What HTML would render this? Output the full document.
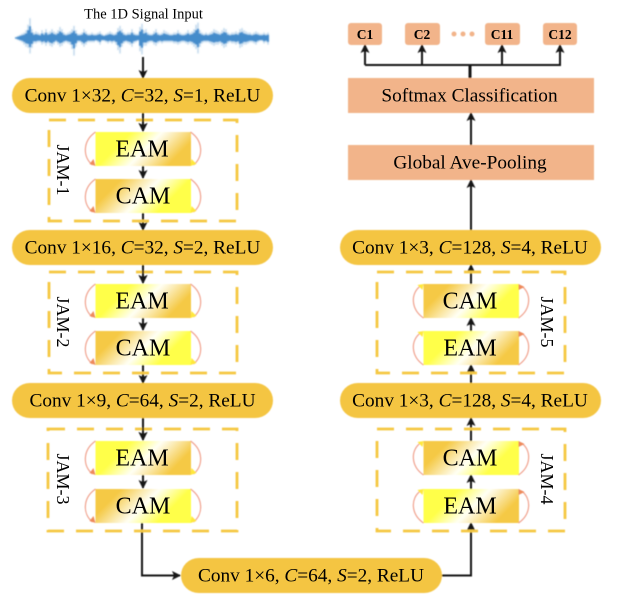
<!DOCTYPE html>
<html><head><meta charset="utf-8"><style>
html,body{margin:0;padding:0;background:#fff}
svg{display:block}
text{font-family:"Liberation Serif",serif;fill:#000}
.p{font-size:19.3px;text-anchor:middle}
.m{font-size:24px;text-anchor:middle}
.j{font-size:18px;text-anchor:middle}
.c{font-size:13.5px;font-weight:bold;text-anchor:middle}
.l{stroke:#141414;stroke-width:2;fill:none}
.d{fill:none;stroke:#f5c842;stroke-width:2.8;stroke-dasharray:17 12}
</style></head><body>
<svg width="618" height="604" viewBox="0 0 618 604" xmlns="http://www.w3.org/2000/svg">
<defs>
<linearGradient id="e" gradientUnits="userSpaceOnUse" x1="15" y1="-15" x2="80" y2="49"><stop offset=".28" stop-color="#ffff4a"/><stop offset=".52" stop-color="#fffff4"/><stop offset=".82" stop-color="#f5c945"/></linearGradient>
<linearGradient id="k" gradientUnits="userSpaceOnUse" x1="15" y1="-15" x2="80" y2="49"><stop offset=".2" stop-color="#f5c945"/><stop offset=".5" stop-color="#fffff4"/><stop offset=".74" stop-color="#ffff4a"/></linearGradient>
<marker id="a" markerWidth="10" markerHeight="10" refX="8" refY="5" orient="auto" markerUnits="userSpaceOnUse"><path d="M0 0.5L9 5L0 9.5L2 5Z" fill="#141414"/></marker>
<g id="arcsD"><path d="M0 0C-13 9-13 25-3 33" fill="none" stroke="#f0a08c" stroke-width="1.2"/><path d="M0 34L-6 32L-2 27Z" fill="#ee8a5c"/><path d="M95 0C108 9 108 25 98 33" fill="none" stroke="#f0a08c" stroke-width="1.2"/><path d="M95 34L101 32L96 27Z" fill="#ffe83e"/></g>
<g id="arcsU"><path d="M0 34C-13 25-13 9-3 2" fill="none" stroke="#f0a08c" stroke-width="1.2"/><path d="M0 0L-6 1L-1 6Z" fill="#ffe83e"/><path d="M95 34C108 25 108 9 98 2" fill="none" stroke="#f0a08c" stroke-width="1.2"/><path d="M95 0L101 3L95 6Z" fill="#ee8a5c"/></g>
<g id="E"><rect width="95.500" height="34" fill="url(#e)"/></g>
<g id="K"><rect width="95.500" height="34" fill="url(#k)"/></g>
<path id="wv" d="M16 37V39M18 36V40M20 35V41M22 34V42M24 33V44M26 31V46M28 26V47M30 20V52M32 30V47M34 33V43M36 32V43M38 33V42M40 34V42M42 31V44M44 33V43M46 30V45M48 33V43M50 32V45M52 30V46M54 32V44M56 33V42M58 31V44M60 28V46M62 30V45M64 33V43M66 34V42M68 33V43M70 32V44M72 30V48M74 27V54M76 31V46M78 34V42M80 34V42M82 33V44M84 30V46M86 32V44M88 34V42M90 34V42M92 33V42M94 34V42M96 34V41M98 33V42M100 32V44M102 34V41M104 35V41M106 34V42M108 33V43M110 32V42M112 33V43M114 34V42M116 33V44M118 29V49M120 27V52M122 30V46M124 33V43M126 34V42M128 33V43M130 33V44M132 30V46M134 33V43M136 34V42M138 34V41M140 28V50M142 25V53M144 31V45M146 30V45M148 33V43M150 34V42M152 34V42M154 32V44M156 30V45M158 33V43M160 34V42M162 33V43M164 31V42M166 32V42M168 33V42M170 34V42M172 34V42M174 33V43M176 33V43M178 31V44M180 33V43M182 34V42M184 34V42M186 33V43M188 31V44M190 33V43M192 32V44M194 30V46M196 26V48M198 24V52M200 31V46M202 33V43M204 34V42M206 33V42M208 34V42M210 33V43M212 32V44M214 30V45M216 31V44M218 32V44M220 33V43M222 31V45M224 29V47M226 30V46M228 33V43M230 34V42M232 33V43M234 33V43M236 32V44M238 33V43M240 30V47M242 29V46M244 31V44M246 32V44M248 33V43M250 33V42M252 34V42M254 33V43M256 32V44M258 33V42M260 34V41M262 34V41M264 33V43M266 34V42M268 33V44"/>
<filter id="b" x="-5%" y="-5%" width="110%" height="110%"><feGaussianBlur stdDeviation="0.4"/></filter>
<filter id="t" x="-5%" y="-5%" width="110%" height="110%"><feGaussianBlur stdDeviation="0.22"/></filter>
<filter id="w" x="-5%" y="-30%" width="110%" height="160%"><feGaussianBlur stdDeviation="0.7"/></filter>
</defs>

<g filter="url(#w)" stroke="#3d86c9" fill="none">
<use href="#wv" stroke-width="1.2" opacity=".4" transform="translate(0,-3.800) scale(1,1.1)"/>
<use href="#wv" stroke-width="1.9" transform="translate(0,13.300) scale(1,.65)"/>
</g>

<g filter="url(#b)">
<path class="l" d="M143 57V78" marker-end="url(#a)"/>
<path class="l" d="M143 113V131" marker-end="url(#a)"/>
<path class="l" d="M143 166V178" marker-end="url(#a)"/>
<path class="l" d="M143 213V230" marker-end="url(#a)"/>
<path class="l" d="M143 265V283" marker-end="url(#a)"/>
<path class="l" d="M143 318V330" marker-end="url(#a)"/>
<path class="l" d="M143 365V383" marker-end="url(#a)"/>
<path class="l" d="M143 418V440" marker-end="url(#a)"/>
<path class="l" d="M143 475V488" marker-end="url(#a)"/>
<path class="l" d="M142 522V575.5H180" marker-end="url(#a)"/>
<path class="l" d="M442 575.5H471V523" marker-end="url(#a)"/>
<path class="l" d="M471 489V475" marker-end="url(#a)"/>
<path class="l" d="M471 441V418" marker-end="url(#a)"/>
<path class="l" d="M471 383V365" marker-end="url(#a)"/>
<path class="l" d="M471 331V318" marker-end="url(#a)"/>
<path class="l" d="M471 284V265" marker-end="url(#a)"/>
<path class="l" d="M471 230V180" marker-end="url(#a)"/>
<path class="l" d="M471 145V113" marker-end="url(#a)"/>
<path class="l" d="M470 78V65" style="stroke-width:3"/>
<path class="l" d="M365 65H561"/>
<path class="l" d="M365 65V45" marker-end="url(#a)"/>
<path class="l" d="M422 65V45" marker-end="url(#a)"/>
<path class="l" d="M502 65V45" marker-end="url(#a)"/>
<path class="l" d="M560 65V45" marker-end="url(#a)"/>

<rect class="d" x="49" y="120" width="188" height="101"/>
<rect class="d" x="49" y="272" width="188" height="101"/>
<rect class="d" x="48" y="429" width="189" height="102"/>
<rect class="d" x="377" y="272" width="188" height="101"/>
<rect class="d" x="377" y="429" width="188" height="102"/>

<g fill="#f4c542">
<rect x="12" y="78" width="261" height="35" rx="17.5"/>
<rect x="12" y="230" width="261" height="35" rx="17.5"/>
<rect x="12" y="383" width="261" height="35" rx="17.5"/>
<rect x="181" y="558" width="261" height="35" rx="17.5"/>
<rect x="340" y="230" width="261" height="35" rx="17.5"/>
<rect x="340" y="383" width="261" height="35" rx="17.5"/>
</g>

<g transform="translate(95.500,132)"><use href="#E"/><use href="#arcsD"/></g>
<g transform="translate(95.500,179)"><use href="#K"/><use href="#arcsD"/></g>
<g transform="translate(95.500,284)"><use href="#E"/><use href="#arcsD"/></g>
<g transform="translate(95.500,331)"><use href="#K"/><use href="#arcsD"/></g>
<g transform="translate(95.500,441)"><use href="#E"/><use href="#arcsD"/></g>
<g transform="translate(95.500,489)"><use href="#K"/><use href="#arcsD"/></g>
<g transform="translate(423.500,284)"><use href="#K"/><use href="#arcsU"/></g>
<g transform="translate(423.500,331)"><use href="#E"/><use href="#arcsU"/></g>
<g transform="translate(423.500,441)"><use href="#K"/><use href="#arcsU"/></g>
<g transform="translate(423.500,489)"><use href="#E"/><use href="#arcsU"/></g>

<path class="l" d="M143 113V131" marker-end="url(#a)"/>
<path class="l" d="M143 265V283" marker-end="url(#a)"/>
<path class="l" d="M143 418V440" marker-end="url(#a)"/>

<g fill="#f2b48a">
<rect x="348" y="78" width="246" height="35"/>
<rect x="348" y="145" width="246" height="35"/>
<rect x="348" y="23" width="34" height="22" rx="3"/>
<rect x="405" y="23" width="35" height="22" rx="3"/>
<rect x="485" y="23" width="35" height="22" rx="3"/>
<rect x="543" y="23" width="34" height="22" rx="3"/>
<circle cx="454" cy="34" r="2.500"/><circle cx="463" cy="34" r="2.500"/><circle cx="472" cy="34" r="2.500"/>
</g>
</g>

<g filter="url(#t)">
<text x="143.500" y="18.500" style="font-size:14.5px" text-anchor="middle">The 1D Signal Input</text>
<text class="p" x="142.500" y="101.500">Conv 1×32, <tspan font-style="italic">C</tspan>=32, <tspan font-style="italic">S</tspan>=1, ReLU</text>
<text class="p" x="142.500" y="253.500">Conv 1×16, <tspan font-style="italic">C</tspan>=32, <tspan font-style="italic">S</tspan>=2, ReLU</text>
<text class="p" x="142.500" y="406.500">Conv 1×9, <tspan font-style="italic">C</tspan>=64, <tspan font-style="italic">S</tspan>=2, ReLU</text>
<text class="p" x="311" y="581.500">Conv 1×6, <tspan font-style="italic">C</tspan>=64, <tspan font-style="italic">S</tspan>=2, ReLU</text>
<text class="p" x="470" y="253.500">Conv 1×3, <tspan font-style="italic">C</tspan>=128, <tspan font-style="italic">S</tspan>=4, ReLU</text>
<text class="p" x="470" y="406.500">Conv 1×3, <tspan font-style="italic">C</tspan>=128, <tspan font-style="italic">S</tspan>=4, ReLU</text>
<text class="m" x="142" y="156.500">EAM</text>
<text class="m" x="143" y="203.500">CAM</text>
<text class="m" x="142" y="308.500">EAM</text>
<text class="m" x="143" y="355.500">CAM</text>
<text class="m" x="142" y="465.500">EAM</text>
<text class="m" x="143" y="513.500">CAM</text>
<text class="m" x="470" y="308.500">CAM</text>
<text class="m" x="470" y="355.500">EAM</text>
<text class="m" x="470" y="465.500">CAM</text>
<text class="m" x="470" y="513.500">EAM</text>
<text class="j" transform="translate(57,170) rotate(90)">JAM-1</text>
<text class="j" transform="translate(57,322) rotate(90)">JAM-2</text>
<text class="j" transform="translate(57,479) rotate(90)">JAM-3</text>
<text class="j" transform="translate(541,322) rotate(90)">JAM-5</text>
<text class="j" transform="translate(541,479) rotate(90)">JAM-4</text>
<text class="p" x="469.500" y="101.500">Softmax Classification</text>
<text class="p" x="470" y="168.500">Global Ave-Pooling</text>
<text class="c" x="365" y="39">C1</text>
<text class="c" x="422" y="39">C2</text>
<text class="c" x="502" y="39">C11</text>
<text class="c" x="560" y="39">C12</text>
</g>
</svg>
</body></html>
